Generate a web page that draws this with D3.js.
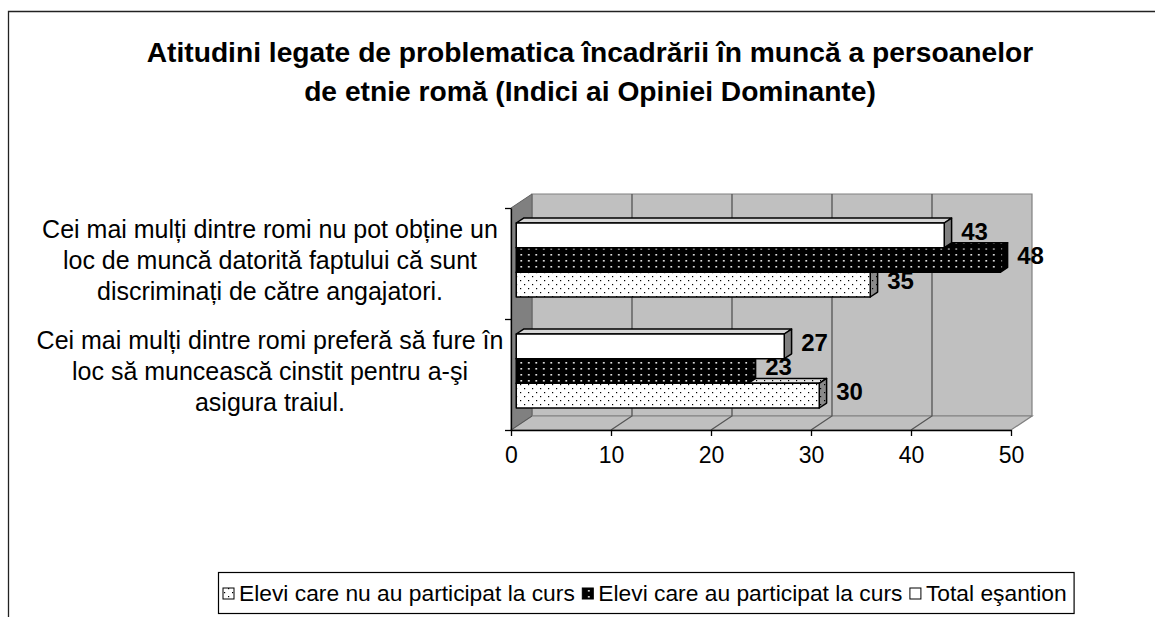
<!DOCTYPE html>
<html><head><meta charset="utf-8">
<script src="https://cdn.jsdelivr.net/npm/d3@7"></script>
<style>body{margin:0;background:#fff}svg{display:block}text{font-family:"Liberation Sans",Arial,sans-serif;fill:#000}</style>
</head><body><svg id="c" width="1155" height="617"></svg>
<script>
const titleLines = ["Atitudini legate de problematica încadrării în muncă a persoanelor", "de etnie romă (Indici ai Opiniei Dominante)"];
const categories = [
  "Cei mai mulți dintre romi nu pot obține un\nloc de muncă datorită faptului că sunt\ndiscriminați de către angajatori.",
  "Cei mai mulți dintre romi preferă să fure în\nloc să muncească cinstit pentru a-şi\nasigura traiul."
];
const seriesNames = ["Elevi care nu au participat la curs", "Elevi care au participat la curs", "Total eşantion"];
const notParticipated = [35.4, 30.3];
const participated = [48.4, 23.2];
const totalSample = [42.8, 26.8];
const xTicks = [0, 10, 20, 30, 40, 50];

const series = [
  {key: "np", name: seriesNames[0], values: notParticipated},
  {key: "p", name: seriesNames[1], values: participated},
  {key: "t", name: seriesNames[2], values: totalSample}
];

const svg = d3.select("#c");
const defs = svg.append("defs");

function dotPattern(id, w, h, bg, dot, pts, s) {
  const p = defs.append("pattern").attr("id", id).attr("patternUnits", "userSpaceOnUse")
    .attr("width", w).attr("height", h);
  p.append("rect").attr("width", w).attr("height", h).attr("fill", bg);
  pts.forEach(([a, b]) => p.append("rect").attr("x", a).attr("y", b).attr("width", s).attr("height", s).attr("fill", dot));
}
dotPattern("npFront", 8, 8, "#fff", "#000", [[0, 0], [4, 4]], 1.2);
dotPattern("npTop", 8, 8, "#e6e6e6", "#000", [[0, 0], [4, 4]], 1.2);
dotPattern("npSide", 8, 8, "#8a8a8a", "#000", [[0, 0], [4, 4]], 1.2);
dotPattern("pFront", 7.5, 6, "#000", "#fff", [[3, 2]], 1.6);
dotPattern("pSide", 7.5, 6, "#000", "#888", [[3, 2]], 1.6);

const fills = {
  np: {front: "url(#npFront)", top: "url(#npTop)", side: "url(#npSide)"},
  p: {front: "url(#pFront)", top: "url(#pFront)", side: "url(#pSide)"},
  t: {front: "#fff", top: "#d6d6d6", side: "#808080"}
};

// outer frame
svg.append("path").attr("d", "M8.5,617 V11.5 H1155").attr("fill", "none")
  .attr("stroke", "#222").attr("stroke-width", 1.3);

// title
svg.append("g").selectAll("text").data(titleLines).join("text")
  .attr("x", 590).attr("y", (d, i) => 62 + i * 39)
  .attr("text-anchor", "middle").attr("font-size", 28.2).attr("font-weight", "bold")
  .text(d => d);

// scales
const x = d3.scaleLinear().domain([0, 50]).range([511, 1011]);
const y = d3.scaleBand().domain(d3.range(categories.length)).range([208, 430]);
const inner = d3.scaleBand().domain(["t", "p", "np"]).range([0, y.bandwidth()]).paddingOuter(0.75);
const DX = 21, DY = -14;
const y0 = y.range()[0], y1 = y.range()[1];

// walls
const wall = svg.append("g");
wall.append("polygon")
  .attr("points", [[x(0) + DX, y0 + DY], [x(50) + DX, y0 + DY], [x(50) + DX, y1 + DY], [x(0) + DX, y1 + DY]].join(" "))
  .attr("fill", "#c0c0c0").attr("stroke", "#808080").attr("stroke-width", 1.2);
wall.append("polygon")
  .attr("points", [[x(0), y0], [x(0) + DX, y0 + DY], [x(0) + DX, y1 + DY], [x(0), y1]].join(" "))
  .attr("fill", "#808080").attr("stroke", "#606060").attr("stroke-width", 1);
wall.append("polygon")
  .attr("points", [[x(0), y1], [x(0) + DX, y1 + DY], [x(50) + DX, y1 + DY], [x(50), y1]].join(" "))
  .attr("fill", "#c0c0c0").attr("stroke", "#808080").attr("stroke-width", 1.2);
// gridlines
wall.selectAll(".g").data(xTicks.slice(1, -1)).join("path")
  .attr("d", d => `M${x(d) + DX},${y0 + DY} V${y1 + DY} L${x(d)},${y1}`)
  .attr("fill", "none").attr("stroke", "#555").attr("stroke-width", 1.3);
wall.append("path").attr("d", `M${x(0)},${y1} L${x(0) + DX},${y1 + DY}`).attr("stroke", "#555").attr("fill", "none");

// value axis
const xAxis = svg.append("g").attr("transform", `translate(0,${y1})`)
  .call(d3.axisBottom(x).tickValues(xTicks).tickSize(6).tickPadding(11).tickSizeOuter(0));
xAxis.select(".domain").attr("stroke", "#000").attr("stroke-width", 1.3);
xAxis.selectAll(".tick line").attr("stroke", "#000").attr("stroke-width", 1.3);
xAxis.selectAll(".tick text").attr("font-size", 23).attr("font-family", '"Liberation Sans",Arial,sans-serif');

// category axis (ticks at band edges)
const yEdge = d3.scaleLinear().domain([0, categories.length]).range([y0, y1]);
const yAxis = svg.append("g").attr("transform", `translate(${x(0)},0)`)
  .call(d3.axisLeft(yEdge).tickValues(d3.range(categories.length + 1)).tickSize(6).tickFormat("").tickSizeOuter(0));
yAxis.select(".domain").attr("stroke", "#000").attr("stroke-width", 1.3);
yAxis.selectAll(".tick line").attr("stroke", "#000").attr("stroke-width", 1.3);

// category labels
const catG = svg.append("g");
categories.forEach((c, i) => {
  const lines = c.split("\n");
  const cy = y(i) + y.bandwidth() / 2 - 3;
  const lh = 31;
  const t = catG.append("text").attr("text-anchor", "middle").attr("font-size", 25);
  lines.forEach((l, j) => {
    t.append("tspan").attr("x", 270).attr("y", cy + (j - (lines.length - 1) / 2) * lh).attr("dy", "0.35em").text(l);
  });
});

// bars (front at 25% of depth, depth 35%)
const OX = DX * 0.25, OY = DY * 0.25, BX = DX * 0.35, BY = DY * 0.35;
const fmt = d3.format(".0f");
const labelG = svg.append("g");
const barG = svg.append("g");
categories.forEach((c, i) => {
  series.forEach(s => {
    const v = s.values[i];
    const xb = x(v) + OX;
    const yt = y(i) + inner(s.key) + OY, h = inner.bandwidth();
    labelG.append("text").attr("x", xb + 17).attr("y", yt + h / 2 - 4).attr("dy", "0.35em")
      .attr("font-size", 24).attr("font-weight", "bold").text(fmt(v));
  });
  // draw from bottom series to top so upper bars cover lower top faces
  series.forEach(s => {
    const v = s.values[i];
    const xa = x(0) + OX, xb = x(v) + OX;
    const yt = y(i) + inner(s.key) + OY, h = inner.bandwidth();
    const g = barG.append("g").attr("stroke", "#000").attr("stroke-width", 1.5).attr("stroke-linejoin", "round");
    g.append("polygon").attr("points", [[xa, yt], [xa + BX, yt + BY], [xb + BX, yt + BY], [xb, yt]].join(" ")).attr("fill", fills[s.key].top);
    g.append("polygon").attr("points", [[xb, yt], [xb + BX, yt + BY], [xb + BX, yt + h + BY], [xb, yt + h]].join(" ")).attr("fill", fills[s.key].side);
    g.append("rect").attr("x", xa).attr("y", yt).attr("width", xb - xa).attr("height", h).attr("fill", fills[s.key].front);
  });
});

// legend
const lg = svg.append("g");
const box = lg.append("rect").attr("x", 218.5).attr("y", 572.5).attr("height", 41).attr("fill", "#fff")
  .attr("stroke", "#000").attr("stroke-width", 1.2);
let lx = 223;
const legendFill = {np: "url(#npFront)", p: "url(#pFront)", t: "#fff"};
series.forEach(s => {
  lg.append("rect").attr("x", lx).attr("y", 588).attr("width", 11).attr("height", 11)
    .attr("fill", legendFill[s.key]).attr("stroke", "#000").attr("stroke-width", 1);
  const t = lg.append("text").attr("x", lx + 16).attr("y", 593.5).attr("dy", "0.35em").attr("font-size", 22.8).text(s.name);
  lx += 16 + t.node().getComputedTextLength() + 7.5;
});
box.attr("width", lx - 218.5);
</script></body></html>
